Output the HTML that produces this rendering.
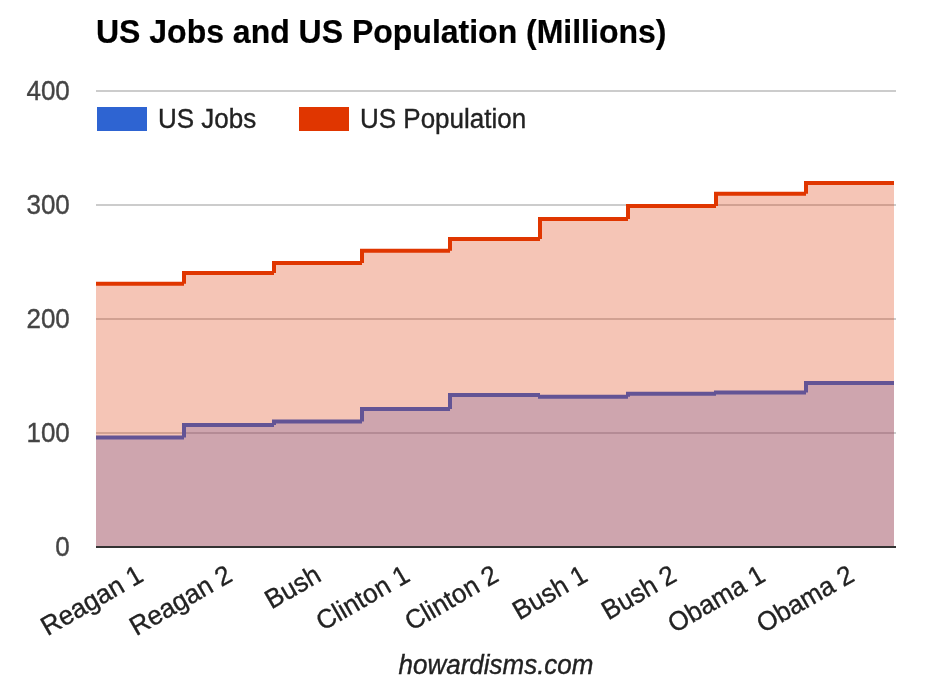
<!DOCTYPE html>
<html><head><meta charset="utf-8"><style>
html,body{margin:0;padding:0;background:#fff;overflow:hidden;}
svg{display:block;will-change:transform;}
text{font-family:"Liberation Sans",sans-serif;}
</style></head><body>
<svg width="942" height="688" viewBox="0 0 942 688">
<rect width="942" height="688" fill="#fff"/>
<text transform="translate(96 43) scale(1 1.03)" font-size="32" fill="#000" stroke="#000" stroke-width="0.2" font-weight="bold" >US Jobs and US Population (Millions)</text>

<text transform="translate(69.8 100) scale(1 1.05)" font-size="26" fill="#444" stroke="#444" stroke-width="0.35" text-anchor="end" >400</text>
<text transform="translate(69.8 214) scale(1 1.05)" font-size="26" fill="#444" stroke="#444" stroke-width="0.35" text-anchor="end" >300</text>
<text transform="translate(69.8 328) scale(1 1.05)" font-size="26" fill="#444" stroke="#444" stroke-width="0.35" text-anchor="end" >200</text>
<text transform="translate(69.8 442) scale(1 1.05)" font-size="26" fill="#444" stroke="#444" stroke-width="0.35" text-anchor="end" >100</text>
<text transform="translate(69.8 556) scale(1 1.05)" font-size="26" fill="#444" stroke="#444" stroke-width="0.35" text-anchor="end" >0</text>

<g fill="#ccc">
<rect x="96" y="90" width="800" height="2"/>
<rect x="96" y="204" width="800" height="2"/>
<rect x="96" y="318" width="800" height="2"/>
<rect x="96" y="432" width="800" height="2"/>
</g>
<rect x="97" y="107" width="50" height="24" fill="#2e64d2"/>
<text transform="translate(158 127.7) scale(1 1.03)" font-size="26" fill="#222" stroke="#222" stroke-width="0.35" >US Jobs</text>

<rect x="299" y="107" width="50" height="24" fill="#e03600"/>
<text transform="translate(360 127.7) scale(1 1.03)" font-size="26" fill="#222" stroke="#222" stroke-width="0.35" >US Population</text>

<path d="M96,547 V437.6 H184 V424.9 H274 V421.5 H362 V409 H450 V395 H540 V396.7 H628 V393.7 H716 V392.6 H806 V383 H894 V547 Z" fill="#4566d9" fill-opacity="0.3"/>
<path d="M96,437.6 H184 M184,437.6 V424.9 H274 M274,424.9 V421.5 H362 M362,421.5 V409 H450 M450,409 V395 H540 M540,395 V396.7 H628 M628,396.7 V393.7 H716 M716,393.7 V392.6 H806 M806,392.6 V383 H894" fill="none" stroke="#2e5ed0" stroke-width="4" stroke-linejoin="miter"/>
<path d="M96,547 V283.8 H184 V273 H274 V263 H362 V250.7 H450 V239 H540 V219 H628 V206 H716 V193.7 H806 V183 H894 V547 Z" fill="#de3e0c" fill-opacity="0.3"/>
<path d="M96,283.8 H184 M184,283.8 V273 H274 M274,273 V263 H362 M362,263 V250.7 H450 M450,250.7 V239 H540 M540,239 V219 H628 M628,219 V206 H716 M716,206 V193.7 H806 M806,193.7 V183 H894" fill="none" stroke="#e03600" stroke-width="4" stroke-linejoin="miter"/>
<rect x="96" y="546" width="800" height="2" fill="#333"/>
<text transform="translate(145.0 580) rotate(-30) scale(1 1.03)" font-size="26" fill="#222" stroke="#222" stroke-width="0.35" text-anchor="end" >Reagan 1</text>
<text transform="translate(233.9 580) rotate(-30) scale(1 1.03)" font-size="26" fill="#222" stroke="#222" stroke-width="0.35" text-anchor="end" >Reagan 2</text>
<text transform="translate(322.7 580) rotate(-30) scale(1 1.03)" font-size="26" fill="#222" stroke="#222" stroke-width="0.35" text-anchor="end" >Bush</text>
<text transform="translate(411.6 580) rotate(-30) scale(1 1.03)" font-size="26" fill="#222" stroke="#222" stroke-width="0.35" text-anchor="end" >Clinton 1</text>
<text transform="translate(500.4 580) rotate(-30) scale(1 1.03)" font-size="26" fill="#222" stroke="#222" stroke-width="0.35" text-anchor="end" >Clinton 2</text>
<text transform="translate(589.3 580) rotate(-30) scale(1 1.03)" font-size="26" fill="#222" stroke="#222" stroke-width="0.35" text-anchor="end" >Bush 1</text>
<text transform="translate(678.2 580) rotate(-30) scale(1 1.03)" font-size="26" fill="#222" stroke="#222" stroke-width="0.35" text-anchor="end" >Bush 2</text>
<text transform="translate(767.0 580) rotate(-30) scale(1 1.03)" font-size="26" fill="#222" stroke="#222" stroke-width="0.35" text-anchor="end" >Obama 1</text>
<text transform="translate(855.9 580) rotate(-30) scale(1 1.03)" font-size="26" fill="#222" stroke="#222" stroke-width="0.35" text-anchor="end" >Obama 2</text>

<text transform="translate(496 673.6) scale(1 1.03)" font-size="26" fill="#222" stroke="#222" stroke-width="0.35" text-anchor="middle" font-style="italic" >howardisms.com</text>

</svg>
</body></html>
